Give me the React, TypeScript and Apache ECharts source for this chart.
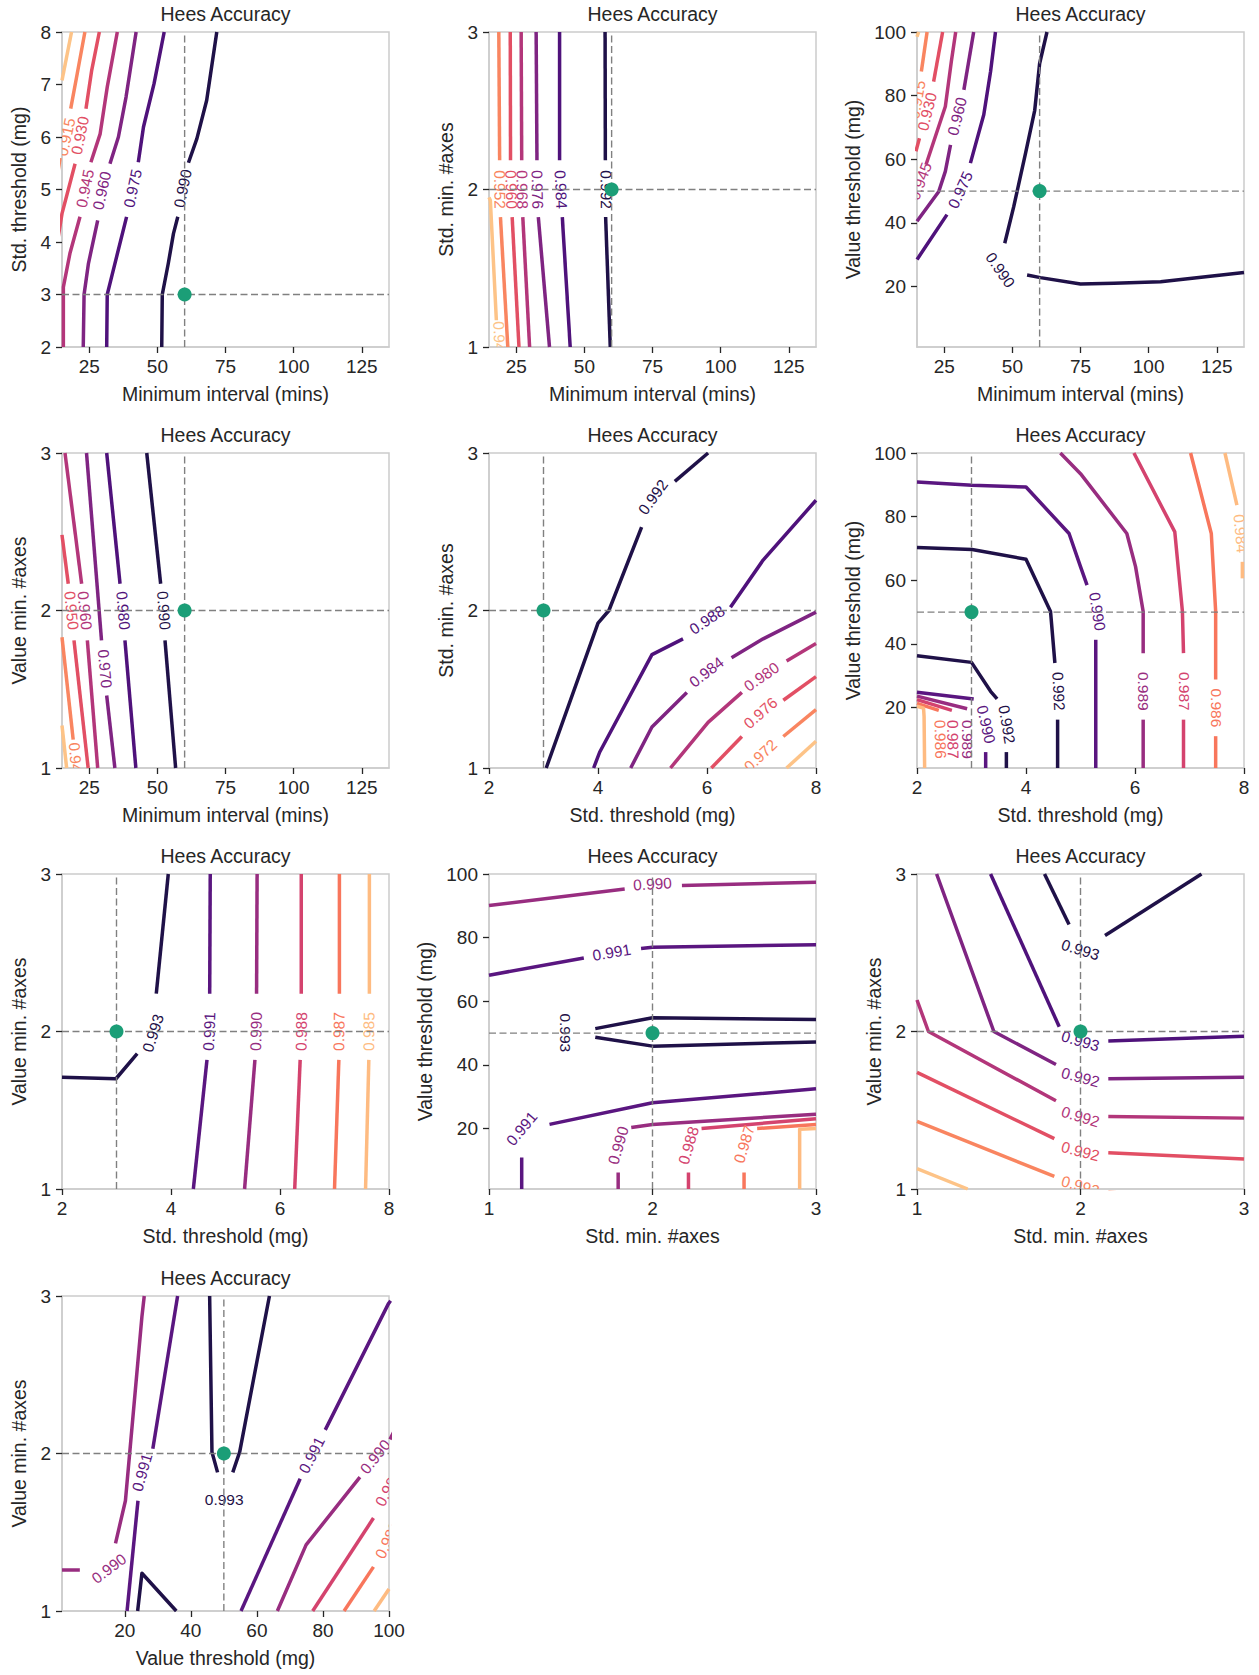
import React, { useEffect, useRef } from 'react';
import * as echarts from 'echarts';

type Pt = [number, number];
// A contour level: consecutive pieces are separated by label gaps; labels[k]
// sits in the gap between pieces[k] and pieces[k + 1].
type Contour = { level: string; tone: number; pieces: Pt[][]; labels: Pt[] };

const TITLE = 'Hees Accuracy';

const X_NAMES = [
  'Minimum interval (mins)', 'Minimum interval (mins)', 'Minimum interval (mins)',
  'Minimum interval (mins)', 'Std. threshold (mg)', 'Std. threshold (mg)',
  'Std. threshold (mg)', 'Std. min. #axes', 'Std. min. #axes',
  'Value threshold (mg)',
];
const Y_NAMES = [
  'Std. threshold (mg)', 'Std. min. #axes', 'Value threshold (mg)',
  'Value min. #axes', 'Std. min. #axes', 'Value threshold (mg)',
  'Value min. #axes', 'Value threshold (mg)', 'Value min. #axes',
  'Value min. #axes',
];
const X_RANGES: Pt[] = [[15, 135], [15, 135], [15, 135], [15, 135], [2, 8], [2, 8], [2, 8], [1, 3], [1, 3], [1, 100]];
const Y_RANGES: Pt[] = [[2, 8], [1, 3], [1, 100], [1, 3], [1, 3], [1, 100], [1, 3], [1, 100], [1, 3], [1, 3]];
const INTERVAL_TICKS = [25, 50, 75, 100, 125];
const STD_TICKS = [2, 4, 6, 8];
const AXES_TICKS = [1, 2, 3];
const VALUE_TICKS = [20, 40, 60, 80, 100];
const STD_Y_TICKS = [2, 3, 4, 5, 6, 7, 8];
const X_TICKS = [INTERVAL_TICKS, INTERVAL_TICKS, INTERVAL_TICKS, INTERVAL_TICKS, STD_TICKS, STD_TICKS, STD_TICKS, AXES_TICKS, AXES_TICKS, VALUE_TICKS];
const Y_TICKS = [STD_Y_TICKS, AXES_TICKS, VALUE_TICKS, AXES_TICKS, AXES_TICKS, VALUE_TICKS, AXES_TICKS, VALUE_TICKS, AXES_TICKS, AXES_TICKS];
const REF_POINTS: Pt[] = [[60, 3], [60, 2], [60, 50], [60, 2], [3, 2], [3, 50], [3, 2], [2, 50], [2, 2], [50, 2]];
const TONE_COUNTS = [7, 7, 7, 7, 7, 6, 6, 6, 7, 6];

const P1_CONTOURS: Contour[] = [
  { level: '0.990', tone: 0, pieces: [[[51.6, 2], [51.8, 3.0], [54.0, 3.59], [55.9, 4.16], [57.5, 4.48]], [[61.4, 5.51], [64.5, 5.97], [68.1, 6.7], [71.8, 8]]], labels: [[59.3, 5.02]] },
  { level: '0.975', tone: 1, pieces: [[[31.4, 2], [31.6, 3.0], [33.8, 3.46], [38.7, 4.48]], [[43.0, 5.52], [44.9, 6.19], [48.8, 7.02], [52.5, 8]]], labels: [[40.9, 5.02]] },
  { level: '0.960', tone: 2, pieces: [[[22.8, 2], [23.1, 3], [24.7, 3.59], [28.1, 4.41]], [[32.6, 5.49], [35.7, 6.0], [38.5, 6.76], [42.2, 8]]], labels: [[29.6, 4.98]] },
  { level: '0.945', tone: 3, pieces: [[[15.5, 2], [15.5, 3.14], [17.9, 3.78], [21.6, 4.48]], [[25.6, 5.52], [29.0, 6.06], [31.6, 6.95], [35.3, 8]]], labels: [[23.4, 5.02]] },
  { level: '0.930', tone: 4, pieces: [[[13, 3.9], [15, 4.54], [19.8, 5.49]], [[23.8, 6.54], [25.9, 7.27], [28.7, 8]]], labels: [[21.6, 6.03]] },
  { level: '0.915', tone: 5, pieces: [[[12, 4.8], [14.3, 5.6]], [[18.2, 6.54], [20.6, 7.21], [23.4, 8]]], labels: [[16.5, 6.0]] },
  { level: '0.900', tone: 6, pieces: [[[15, 7.08], [18.5, 8]]], labels: [] },
];

const P2_CONTOURS: Contour[] = [
  { level: '0.992', tone: 0, pieces: [[[57.6, 3], [57.7, 2.185]], [[57.8, 1.825], [59.5, 1]]], labels: [[58.0, 2.0]] },
  { level: '0.984', tone: 1, pieces: [[[40.9, 3], [40.9, 2.185]], [[41.9, 1.825], [44.8, 1]]], labels: [[41.4, 2.0]] },
  { level: '0.976', tone: 2, pieces: [[[32.3, 3], [32.6, 2.185]], [[33.1, 1.825], [37.2, 1]]], labels: [[32.8, 2.0]] },
  { level: '0.968', tone: 3, pieces: [[[26.8, 3], [27.0, 2.185]], [[27.4, 1.825], [29.9, 1]]], labels: [[27.2, 2.0]] },
  { level: '0.960', tone: 4, pieces: [[[22.8, 3], [22.9, 2.185]], [[23.5, 1.825], [26.0, 1]]], labels: [[23.2, 2.0]] },
  { level: '0.952', tone: 5, pieces: [[[18.6, 3], [18.9, 2.185]], [[19.2, 1.825], [21.9, 1]]], labels: [[19.0, 2.0]] },
  { level: '0.944', tone: 6, pieces: [[[15, 1.95], [15.5, 1.93], [17.7, 1.17]], [[18.4, 0.9], [18.8, 0.8]]], labels: [[18.9, 1.04]] },
];

const P3_CONTOURS: Contour[] = [
  { level: '0.990', tone: 0, pieces: [[[62.7, 100], [60.0, 90.1], [58.2, 75.4], [54.8, 61.8], [50.5, 45.1], [47.2, 33.6]], [[55.4, 23.6], [60.3, 22.8], [75.0, 20.8], [87.3, 21.0], [104.4, 21.5], [135, 24.4]]], labels: [[45.6, 25.2]] },
  { level: '0.975', tone: 1, pieces: [[[43.8, 100], [42.0, 87.6], [39.5, 74.0], [34.6, 58.8]], [[26.0, 42.6], [15.4, 29.0], [15, 28.5]]], labels: [[30.9, 50.4]] },
  { level: '0.960', tone: 2, pieces: [[[35.8, 100], [32.2, 81.8]], [[27.3, 64.5], [25.4, 56.2], [23.0, 49.9], [15.0, 40.5]]], labels: [[29.7, 73.5]] },
  { level: '0.945', tone: 3, pieces: [[[29.2, 100], [27.6, 90.7], [25.4, 76.6], [18.3, 58.3]], [[13.8, 47.8], [10.7, 42.6]]], labels: [[16.2, 53.1]] },
  { level: '0.930', tone: 4, pieces: [[[24.4, 100], [21.1, 84.4]], [[15.9, 66.6], [14.6, 62.5]]], labels: [[18.7, 75.0]] },
  { level: '0.915', tone: 5, pieces: [[[18.7, 100], [16.6, 87.6]], [[13.2, 70.8], [10.7, 59.3]]], labels: [[15.0, 78.7]] },
  { level: '0.900', tone: 6, pieces: [[[15, 98.5], [15.6, 100]]], labels: [] },
];

const P4_CONTOURS: Contour[] = [
  { level: '0.990', tone: 0, pieces: [[[46.1, 3], [51.2, 2.17]], [[52.8, 1.81], [56.7, 1]]], labels: [[52.4, 2.0]] },
  { level: '0.980', tone: 1, pieces: [[[31.4, 3], [36.3, 2.17]], [[38.1, 1.81], [42.1, 1]]], labels: [[37.5, 2.0]] },
  { level: '0.970', tone: 2, pieces: [[[24.0, 3], [29.5, 1.81]], [[31.4, 1.46], [34.4, 1]]], labels: [[30.8, 1.63]] },
  { level: '0.960', tone: 3, pieces: [[[16.1, 3], [22.2, 2.17]], [[24.3, 1.81], [28.1, 1]]], labels: [[23.4, 2.0]] },
  { level: '0.950', tone: 4, pieces: [[[15, 2.48], [17.3, 2.17]], [[19.4, 1.81], [24.6, 1]]], labels: [[18.5, 2.0]] },
  { level: '0.940', tone: 5, pieces: [[[15, 1.83], [19.1, 1.18]], [[20.6, 0.9], [21, 0.8]]], labels: [[20.1, 1.04]] },
  { level: '0.930', tone: 6, pieces: [[[15, 1.27], [16.7, 1.0]]], labels: [] },
];

const P5_CONTOURS: Contour[] = [
  { level: '0.992', tone: 0, pieces: [[[3.05, 1], [4.0, 1.92], [4.2, 2.0], [4.8, 2.53]], [[5.41, 2.82], [6.02, 3.0]]], labels: [[5.01, 2.72]] },
  { level: '0.988', tone: 1, pieces: [[[3.92, 1], [4.03, 1.1], [4.99, 1.72], [5.56, 1.82]], [[6.43, 2.02], [7.03, 2.32], [8.0, 2.7]]], labels: [[6.0, 1.94]] },
  { level: '0.984', tone: 2, pieces: [[[4.6, 1], [4.99, 1.26], [5.63, 1.48]], [[6.45, 1.7], [7.03, 1.82], [8.0, 1.99]]], labels: [[5.99, 1.61]] },
  { level: '0.980', tone: 3, pieces: [[[5.33, 1], [6.02, 1.29], [6.64, 1.48]], [[7.46, 1.68], [8.0, 1.79]]], labels: [[7.0, 1.58]] },
  { level: '0.976', tone: 4, pieces: [[[6.08, 1], [6.64, 1.2]], [[7.4, 1.43], [8.0, 1.58]]], labels: [[6.98, 1.35]] },
  { level: '0.972', tone: 5, pieces: [[[6.42, 0.88], [6.7, 0.97]], [[7.4, 1.2], [8.0, 1.37]]], labels: [[6.98, 1.08]] },
  { level: '0.968', tone: 6, pieces: [[[7.46, 1], [8.0, 1.17]]], labels: [] },
];

const P6_CONTOURS: Contour[] = [
  { level: '0.992', tone: 0, pieces: [[[2.0, 70.3], [3.01, 69.7], [4.0, 66.6], [4.45, 50.2], [4.53, 34.0]], [[4.58, 16.2], [4.58, 1]]], labels: [[4.6, 25.1]] },
  { level: '0.992', tone: 0, pieces: [[[2.0, 36.3], [3.0, 34.2], [3.35, 25.1], [3.47, 22.7]], [[3.64, 6.0], [3.64, 1]]], labels: [[3.65, 14.7]] },
  { level: '0.990', tone: 1, pieces: [[[2.0, 90.9], [3.01, 89.9], [4.0, 89.3], [4.79, 74.7], [5.0, 64.3], [5.12, 58.5]], [[5.28, 41.3], [5.28, 1]]], labels: [[5.31, 50.2]] },
  { level: '0.990', tone: 1, pieces: [[[2.0, 24.8], [3.04, 22.7]], [[3.26, 6.0], [3.26, 1]]], labels: [[3.27, 14.7]] },
  { level: '0.989', tone: 2, pieces: [[[4.63, 100], [5.0, 93.5], [5.85, 74.7], [6.01, 64.3], [6.15, 50.2], [6.15, 37.1]], [[6.15, 16.2], [6.15, 1]]], labels: [[6.16, 25.1]] },
  { level: '0.989', tone: 2, pieces: [[[2.0, 23.6], [2.92, 19.6]], [[2.92, -1], [2.92, -2]]], labels: [[2.92, 10.0]] },
  { level: '0.987', tone: 3, pieces: [[[5.98, 100], [6.73, 75.2], [6.87, 50.2], [6.89, 37.1]], [[6.89, 16.2], [6.89, 1]]], labels: [[6.9, 25.1]] },
  { level: '0.987', tone: 3, pieces: [[[2.0, 22.5], [2.64, 19.1]], [[2.66, -1], [2.66, -2]]], labels: [[2.66, 10.0]] },
  { level: '0.986', tone: 4, pieces: [[[7.02, 100], [7.4, 74.7], [7.48, 50.2], [7.48, 28.8]], [[7.48, 11.0], [7.48, 1]]], labels: [[7.5, 19.9]] },
  { level: '0.986', tone: 4, pieces: [[[2.0, 21.3], [2.4, 19.1]], [[2.43, -1], [2.43, -2]]], labels: [[2.43, 10.0]] },
  { level: '0.984', tone: 5, pieces: [[[7.65, 100], [7.87, 83.6]], [[7.97, 65.8], [7.97, 60.6]]], labels: [[7.94, 74.7]] },
  { level: '0.984', tone: 5, pieces: [[[2.0, 20.4], [2.12, 19.8], [2.13, 17.2], [2.14, 1]]], labels: [] },
];

const P7_CONTOURS: Contour[] = [
  { level: '0.993', tone: 0, pieces: [[[2.0, 1.71], [2.99, 1.7], [3.38, 1.86]], [[3.73, 2.24], [3.95, 3.0]]], labels: [[3.67, 1.99]] },
  { level: '0.991', tone: 1, pieces: [[[4.72, 3], [4.71, 2.24]], [[4.66, 1.82], [4.41, 1]]], labels: [[4.7, 2.0]] },
  { level: '0.990', tone: 2, pieces: [[[5.58, 3], [5.57, 2.24]], [[5.54, 1.82], [5.35, 1]]], labels: [[5.56, 2.0]] },
  { level: '0.988', tone: 3, pieces: [[[6.39, 3], [6.39, 2.24]], [[6.37, 1.82], [6.27, 1]]], labels: [[6.39, 2.0]] },
  { level: '0.987', tone: 4, pieces: [[[7.09, 3], [7.09, 2.24]], [[7.08, 1.82], [7.0, 1]]], labels: [[7.08, 2.0]] },
  { level: '0.985', tone: 5, pieces: [[[7.64, 3], [7.64, 2.24]], [[7.63, 1.82], [7.57, 1]]], labels: [[7.63, 2.0]] },
];

const P8_CONTOURS: Contour[] = [
  { level: '0.990', tone: 2, pieces: [[[1.0, 90.1], [1.83, 95.3]], [[2.18, 96.4], [3.0, 97.4]]], labels: [[2.0, 96.9]] },
  { level: '0.991', tone: 1, pieces: [[[1.0, 68.2], [1.58, 73.6]], [[1.93, 76.6], [2.0, 77.0], [3.0, 77.8]]], labels: [[1.75, 75.4]] },
  { level: '0.993', tone: 0, pieces: [[[3.0, 54.3], [2.0, 54.8], [1.65, 51.4]], [[1.65, 48.7], [2.0, 45.9], [3.0, 47.2]]], labels: [[1.47, 50.1]] },
  { level: '0.991', tone: 1, pieces: [[[1.2, 1], [1.2, 10.9]], [[1.37, 21.3], [2.0, 28.1], [3.0, 32.5]]], labels: [[1.2, 20.0]] },
  { level: '0.990', tone: 2, pieces: [[[1.79, 1], [1.79, 6.2]], [[1.87, 20.3], [2.0, 21.3], [3.0, 24.5]]], labels: [[1.79, 14.7]] },
  { level: '0.988', tone: 3, pieces: [[[2.22, 1], [2.22, 6.2]], [[2.3, 20.0], [3.0, 23.1]]], labels: [[2.22, 14.7]] },
  { level: '0.987', tone: 4, pieces: [[[2.56, 1], [2.56, 6.2]], [[2.64, 20.0], [3.0, 21.3]]], labels: [[2.56, 15.1]] },
  { level: '0.985', tone: 5, pieces: [[[2.9, 1], [2.9, 19.8], [3.0, 20.0]]], labels: [] },
];

const P9_CONTOURS: Contour[] = [
  { level: '0.993', tone: 0, pieces: [[[1.78, 3.0], [1.93, 2.68]], [[2.15, 2.61], [2.74, 3.0]]], labels: [[2.0, 2.52]] },
  { level: '0.993', tone: 1, pieces: [[[1.45, 3.0], [1.87, 2.03]], [[2.17, 1.94], [3.0, 1.97]]], labels: [[2.0, 1.94]] },
  { level: '0.992', tone: 2, pieces: [[[1.12, 3.0], [1.47, 2.0], [1.85, 1.79]], [[2.17, 1.7], [3.0, 1.71]]], labels: [[2.0, 1.71]] },
  { level: '0.992', tone: 3, pieces: [[[1.0, 2.2], [1.07, 2.0], [1.85, 1.56]], [[2.17, 1.46], [3.0, 1.45]]], labels: [[2.0, 1.46]] },
  { level: '0.992', tone: 4, pieces: [[[1.0, 1.74], [1.84, 1.32]], [[2.17, 1.23], [3.0, 1.19]]], labels: [[2.0, 1.24]] },
  { level: '0.992', tone: 5, pieces: [[[1.0, 1.43], [1.84, 1.08]], [[2.17, 0.98], [3.0, 0.92]]], labels: [[2.0, 1.02]] },
  { level: '0.992', tone: 6, pieces: [[[1.0, 1.13], [1.31, 1.0]]], labels: [] },
];

const P10_CONTOURS: Contour[] = [
  { level: '0.993', tone: 0, pieces: [[[45.7, 3.0], [46.4, 2.01], [48.1, 1.88]], [[52.7, 1.88], [54.8, 2.01], [63.8, 3.0]]], labels: [[50.1, 1.71]] },
  { level: '0.993', tone: 0, pieces: [[[23.9, 1.0], [25.2, 1.24], [35.6, 1.0]]], labels: [] },
  { level: '0.991', tone: 1, pieces: [[[36.0, 3.0], [28.5, 2.03]], [[24.0, 1.7], [20.7, 1.0]]], labels: [[25.2, 1.88]] },
  { level: '0.991', tone: 1, pieces: [[[55.2, 1.0], [73.1, 1.84]], [[80.7, 2.15], [99.8, 2.95], [100.5, 2.97]]], labels: [[76.6, 1.99]] },
  { level: '0.990', tone: 2, pieces: [[[25.9, 3.0], [25.2, 2.87], [20.2, 1.7], [17.2, 1.43]], [[6.4, 1.26], [1.0, 1.26]]], labels: [[15.2, 1.27]] },
  { level: '0.990', tone: 2, pieces: [[[66.2, 1.0], [74.9, 1.42], [91.2, 1.85]], [[100.3, 2.09], [103, 2.2]]], labels: [[95.8, 1.98]] },
  { level: '0.989', tone: 3, pieces: [[[76.9, 1.0], [95.3, 1.59]], [[102, 1.85], [104, 1.95]]], labels: [[99.8, 1.78]] },
  { level: '0.988', tone: 4, pieces: [[[86.4, 1.0], [95.3, 1.28]], [[101.3, 1.54], [103, 1.62]]], labels: [[99.6, 1.45]] },
  { level: '0.985', tone: 5, pieces: [[[95.5, 1.0], [100, 1.14]]], labels: [] },
];

const CONTOURS: Contour[][] = [
  P1_CONTOURS, P2_CONTOURS, P3_CONTOURS, P4_CONTOURS, P5_CONTOURS,
  P6_CONTOURS, P7_CONTOURS, P8_CONTOURS, P9_CONTOURS, P10_CONTOURS,
];

// magma-like line colours, dark (high accuracy) to light
const MAGMA_7 = ['#1f1148', '#4f127b', '#7f2482', '#b3367a', '#e24f64', '#f98560', '#fdc387'];
const MAGMA_6 = ['#1f1148', '#5a1680', '#982d80', '#d4436e', '#f8765c', '#febb81'];

const FONT = "'Liberation Sans', Arial, Helvetica, sans-serif";
const TEXT = '#262626';
const SPINE = '#cccccc';
const COL_LEFT = [62, 489, 917];
const ROW_TOP = [32, 453, 874, 1296];
const PLOT_W = 327;
const PLOT_H = 315;

function labelRenderer(text: string, color: string) {
  return (_params: any, api: any) => {
    const p = api.coord([api.value(0), api.value(1)]);
    const a = api.coord([api.value(2), api.value(3)]);
    const b = api.coord([api.value(4), api.value(5)]);
    let ang = Math.atan2(a[1] - b[1], b[0] - a[0]);
    if (ang > Math.PI / 2) ang -= Math.PI;
    else if (ang < -Math.PI / 2) ang += Math.PI;
    return {
      type: 'text',
      x: p[0],
      y: p[1],
      rotation: ang,
      style: {
        text,
        fill: color,
        font: `15.5px ${FONT}`,
        align: 'center',
        verticalAlign: 'middle',
        textAlign: 'center',
        textVerticalAlign: 'middle',
      },
    };
  };
}

function buildOption() {
  const grid: any[] = [];
  const xAxis: any[] = [];
  const yAxis: any[] = [];
  const series: any[] = [];
  const graphic: any[] = [];

  CONTOURS.forEach((contours, i) => {
    const left = COL_LEFT[i % 3];
    const top = ROW_TOP[Math.floor(i / 3)];
    const [xmin, xmax] = X_RANGES[i];
    const [ymin, ymax] = Y_RANGES[i];
    const palette = TONE_COUNTS[i] === 7 ? MAGMA_7 : MAGMA_6;
    const wideTicks = Math.max(...Y_TICKS[i]) >= 100;

    grid.push({
      left, top, width: PLOT_W, height: PLOT_H,
      show: true, borderColor: SPINE, borderWidth: 1.5,
      containLabel: false, outerBoundsMode: 'none',
    });
    const tickStyle = { show: true, length: 6, lineStyle: { color: TEXT, width: 1.3 } };
    const labelStyle = { color: TEXT, fontSize: 19, fontFamily: FONT };
    xAxis.push({
      gridIndex: i, type: 'value', min: xmin, max: xmax,
      name: X_NAMES[i], nameLocation: 'middle', nameGap: 37,
      nameTextStyle: { color: TEXT, fontSize: 19.5, fontFamily: FONT },
      axisLine: { show: true, onZero: false, lineStyle: { color: SPINE, width: 1.5 } },
      axisTick: { ...tickStyle, customValues: X_TICKS[i] },
      axisLabel: { ...labelStyle, margin: 10, customValues: X_TICKS[i] },
      splitLine: { show: false },
    });
    yAxis.push({
      gridIndex: i, type: 'value', min: ymin, max: ymax,
      name: Y_NAMES[i], nameLocation: 'middle', nameGap: wideTicks ? 54 : 33,
      nameTextStyle: { color: TEXT, fontSize: 19.5, fontFamily: FONT },
      axisLine: { show: true, onZero: false, lineStyle: { color: SPINE, width: 1.5 } },
      axisTick: { ...tickStyle, customValues: Y_TICKS[i] },
      axisLabel: { ...labelStyle, margin: 11, customValues: Y_TICKS[i] },
      splitLine: { show: false },
    });

    contours.forEach((c) => {
      const color = palette[c.tone];
      c.pieces.forEach((piece) => {
        series.push({
          type: 'line', xAxisIndex: i, yAxisIndex: i, data: piece,
          symbol: 'none', showSymbol: false, silent: true, clip: true, z: 2,
          lineStyle: { color, width: 3.5, cap: 'butt', join: 'round' },
        });
      });
      if (c.labels.length) {
        series.push({
          type: 'custom', xAxisIndex: i, yAxisIndex: i, clip: true, silent: true, z: 3,
          data: c.labels.map((pt, k) => {
            const a = c.pieces[k][c.pieces[k].length - 1];
            const b = c.pieces[k + 1][0];
            return [pt[0], pt[1], a[0], a[1], b[0], b[1]];
          }),
          encode: { x: 0, y: 1 },
          renderItem: labelRenderer(c.level, color),
        });
      }
    });

    const [rx, ry] = REF_POINTS[i];
    const dashed = { color: '#808080', width: 1.4, type: [7, 3.5] };
    series.push({
      type: 'line', xAxisIndex: i, yAxisIndex: i, data: [[xmin, ry], [xmax, ry]],
      symbol: 'none', silent: true, z: 4, lineStyle: dashed,
    });
    series.push({
      type: 'line', xAxisIndex: i, yAxisIndex: i, data: [[rx, ymin], [rx, ymax]],
      symbol: 'none', silent: true, z: 4, lineStyle: dashed,
    });
    series.push({
      type: 'scatter', xAxisIndex: i, yAxisIndex: i, data: [[rx, ry]],
      symbol: 'circle', symbolSize: 14, silent: true, z: 6,
      itemStyle: { color: '#1b9e77', opacity: 1 },
    });

    graphic.push({
      type: 'text', x: left + PLOT_W / 2, y: top - 18, silent: true,
      style: {
        text: TITLE, fill: TEXT, font: `19.5px ${FONT}`,
        align: 'center', verticalAlign: 'middle', textAlign: 'center', textVerticalAlign: 'middle',
      },
    });
  });

  return { animation: false, backgroundColor: '#ffffff', grid, xAxis, yAxis, series, graphic };
}

export default function App() {
  const ref = useRef<HTMLDivElement>(null);
  useEffect(() => {
    if (!ref.current) return;
    const chart = echarts.init(ref.current, undefined, { renderer: 'svg' });
    chart.setOption(buildOption() as any);
    return () => chart.dispose();
  }, []);
  return (
    <div
      ref={ref}
      style={{ position: 'absolute', left: 0, top: 0, width: 1259, height: 1675, background: '#ffffff' }}
    />
  );
}
